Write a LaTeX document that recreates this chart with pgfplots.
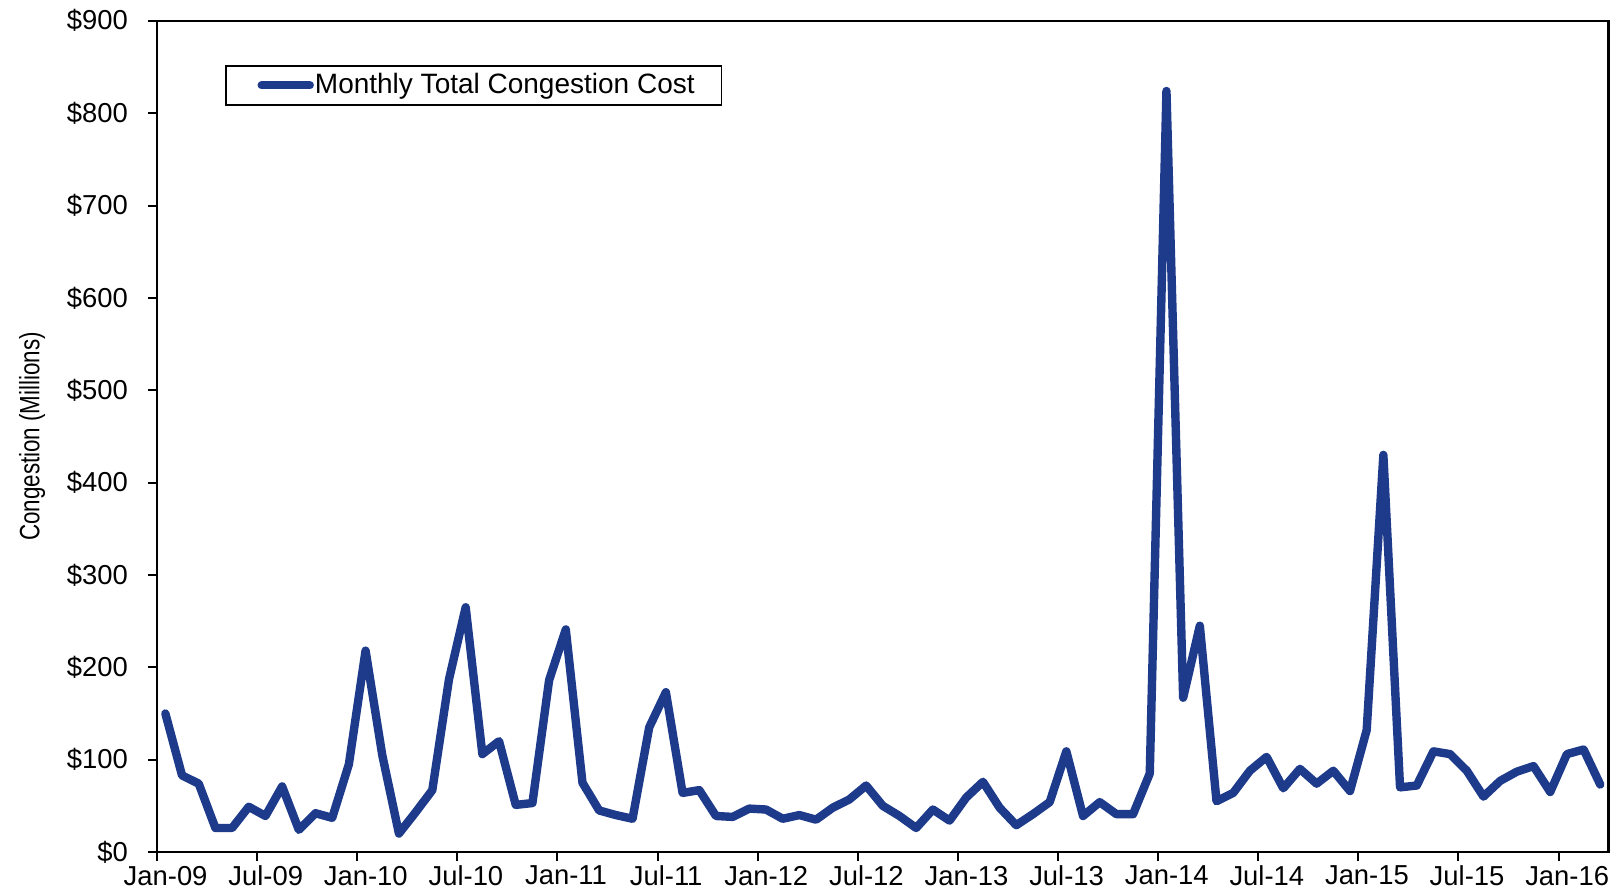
\documentclass[border=0pt]{standalone}
\usepackage{fontspec}
\setmainfont{Liberation Sans}
\usepackage{pgfplots}
\pgfplotsset{compat=1.18}
\usepackage{graphicx}
\definecolor{lineblue}{RGB}{29,58,139}

\begin{document}
\begin{tikzpicture}
\begin{axis}[
  name=ax,
  scale only axis,
  width=725.8pt, height=415.6pt,
  xmin=0, xmax=87, ymin=0, ymax=900,
  xtick={0,6,...,84},
  xticklabels={Jan-09,Jul-09,Jan-10,Jul-10,Jan-11,Jul-11,Jan-12,Jul-12,Jan-13,Jul-13,Jan-14,Jul-14,Jan-15,Jul-15,Jan-16},
  ytick={0,100,...,900},
  yticklabels={\$0,\$100,\$200,\$300,\$400,\$500,\$600,\$700,\$800,\$900},
  tick align=outside,
  major tick length=4.5pt,
  tick style={black, line width=1pt},
  xtick pos=bottom, ytick pos=left,
  axis line style={line width=1.2pt},
  tick label style={font=\fontsize{13.7}{16}\selectfont},
  yticklabel style={xshift=-6.5pt},
  xticklabel style={yshift=1pt, xshift=4.3pt},
  ylabel={\scalebox{0.8}[1]{Congestion (Millions)}},
  ylabel style={font=\fontsize{14}{16}\selectfont, at={(axis description cs:-0.086,0.5)}, anchor=center},
  legend cell align=left,
  legend style={at={(axis description cs:0.0468,0.9467)}, anchor=north west,
    draw=black, line width=0.8pt, inner xsep=0pt, inner ysep=3.4pt,
    font=\fontsize{14}{16}\selectfont,
    nodes={inner sep=0.5pt}},
  legend image code/.code={
    \path (-15.8pt,0pt);
    \draw[line width=4pt, line cap=round, color=lineblue] (0pt,0pt) -- (24.2pt,0pt);
  },
]
\addplot[lineblue, line width=4.2pt, line join=round, line cap=round] coordinates {
(0.5,150) (1.5,83) (2.5,74) (3.5,26) (4.5,26) (5.5,49) (6.5,39) (7.5,71) (8.5,24) (9.5,42)
(10.5,37) (11.5,95) (12.5,218) (13.5,105) (14.5,20) (15.5,43) (16.5,67) (17.5,187) (18.5,265) (19.5,106)
(20.5,120) (21.5,51) (22.5,53) (23.5,186) (24.5,241) (25.5,75) (26.5,45) (27.5,40) (28.5,36) (29.5,135)
(30.5,173) (31.5,64) (32.5,67) (33.5,39) (34.5,38) (35.5,47) (36.5,46) (37.5,36) (38.5,40) (39.5,35)
(40.5,48) (41.5,57) (42.5,72) (43.5,50) (44.5,39) (45.5,26) (46.5,46) (47.5,34) (48.5,59) (49.5,76)
(50.5,48) (51.5,29) (52.5,41) (53.5,54) (54.5,109) (55.5,39) (56.5,54) (57.5,41) (58.5,41) (59.5,85)
(60.5,824) (61.5,167) (62.5,245) (63.5,55) (64.5,64) (65.5,88) (66.5,103) (67.5,69) (68.5,90) (69.5,74)
(70.5,88) (71.5,66) (72.5,132) (73.5,430) (74.5,70) (75.5,72) (76.5,109) (77.5,106) (78.5,88) (79.5,60)
(80.5,77) (81.5,87) (82.5,93) (83.5,65) (84.5,106) (85.5,111) (86.5,73)
};
\addlegendentry{Monthly Total Congestion Cost\rule{13pt}{0pt}}
\end{axis}
\pgfresetboundingbox
\path ([shift={(-78.5pt,-20.5pt)}]ax.south west) rectangle ([shift={(6.2pt,10.4pt)}]ax.north east);
\end{tikzpicture}
\end{document}
